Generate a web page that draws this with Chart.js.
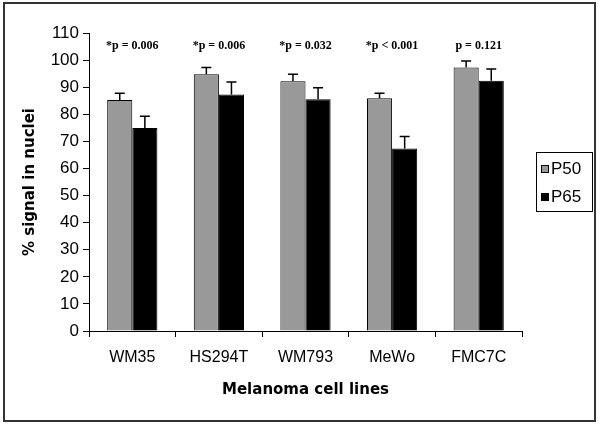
<!DOCTYPE html>
<html lang="en">
<head>
    <meta charset="UTF-8">
    <title>% signal in nuclei - melanoma cell lines</title>
    <script src="https://cdn.jsdelivr.net/npm/chart.js"></script>
    <style>
        body { margin: 0; background: #fff; }
        #wrap { width: 600px; height: 425px; position: relative; }
    </style>
</head>
<body>
<div id="wrap"><canvas id="barChart" width="600" height="425"></canvas></div>
<script>
    // data
    var cellLines = ['WM35', 'HS294T', 'WM793', 'MeWo', 'FMC7C'];
    var p50 = [85.3, 94.8, 92.2, 85.9, 97.3];
    var p65 = [74.9, 87.3, 85.5, 67.4, 92.4];
    var p50Err = [2.5, 2.5, 2.6, 1.9, 2.4];
    var p65Err = [4.4, 4.6, 4.3, 4.4, 4.3];
    var pLabels = ['*p = 0.006', '*p = 0.006', '*p = 0.032', '*p < 0.001', 'p = 0.121'];

    // upward error bars + p-value labels + frame + legend
    var extras = {
        id: 'extras',
        afterDatasetsDraw: function(chart) {
            var ctx = chart.ctx;
            var y = chart.scales.y;
            var errs = [p50Err, p65Err];
            ctx.save();
            ctx.strokeStyle = '#000';
            ctx.lineWidth = 1.5;
            chart.data.datasets.forEach(function(ds, di) {
                chart.getDatasetMeta(di).data.forEach(function(bar, i) {
                    var top = y.getPixelForValue(ds.data[i] + errs[di][i]);
                    ctx.beginPath();
                    ctx.moveTo(bar.x, bar.y);
                    ctx.lineTo(bar.x, top);
                    ctx.moveTo(bar.x - 5, top);
                    ctx.lineTo(bar.x + 5, top);
                    ctx.stroke();
                });
            });
            // p values above each group
            ctx.fillStyle = '#000';
            ctx.font = 'bold 12px "Liberation Serif"';
            ctx.textAlign = 'center';
            ctx.textBaseline = 'middle';
            var x = chart.scales.x;
            pLabels.forEach(function(t, i) {
                ctx.fillText(t, x.getPixelForValue(i), 46);
            });
            ctx.restore();
        },
        beforeDraw: function(chart) {
            var ctx = chart.ctx;
            ctx.save();
            ctx.fillStyle = '#fff';
            ctx.fillRect(0, 0, chart.width, chart.height);
            ctx.strokeStyle = '#333';
            ctx.lineWidth = 2;
            ctx.strokeRect(4, 3, 591, 418);
            ctx.restore();
        },
        afterDraw: function(chart) {
            var ctx = chart.ctx;
            ctx.save();
            ctx.strokeStyle = '#000';
            ctx.lineWidth = 1;
            ctx.strokeRect(536.5, 152.5, 56, 59);
            var items = [['P50', '#999999'], ['P65', '#000000']];
            ctx.font = '17px "Liberation Sans"';
            ctx.textBaseline = 'middle';
            ctx.textAlign = 'left';
            items.forEach(function(it, i) {
                var cy = 169 + i * 28;
                ctx.fillStyle = it[1];
                ctx.fillRect(541.5, cy - 3.5, 7, 7);
                ctx.strokeRect(541.5, cy - 3.5, 7, 7);
                ctx.fillStyle = '#000';
                ctx.fillText(it[0], 551, cy);
            });
            ctx.restore();
        }
    };

    var config = {
        type: 'bar',
        data: {
            labels: cellLines,
            datasets: [{
                label: 'P50',
                data: p50,
                backgroundColor: '#999999',
                borderColor: '#000',
                borderWidth: 1,
                barPercentage: 1,
                categoryPercentage: 0.58
            }, {
                label: 'P65',
                data: p65,
                backgroundColor: '#000000',
                borderColor: '#000',
                borderWidth: 1,
                barPercentage: 1,
                categoryPercentage: 0.58
            }]
        },
        plugins: [extras],
        options: {
            responsive: false,
            animation: false,
            layout: { padding: { top: 33, right: 78, left: 0, bottom: 0 } },
            plugins: {
                legend: { display: false },
                tooltip: { enabled: false }
            },
            scales: {
                x: {
                    afterFit: function(s) { s.height = 94; },
                    grid: { offset: true, drawOnChartArea: false, tickLength: 6, color: '#000' },
                    border: { color: '#000', width: 1 },
                    ticks: { color: '#000', padding: 11, font: { family: 'Liberation Sans', size: 16 } },
                    title: {
                        display: true,
                        text: 'Melanoma cell lines',
                        color: '#000',
                        font: { family: 'DejaVu Sans', size: 15, weight: 'bold' },
                        padding: { top: 0, bottom: 26 }
                    }
                },
                y: {
                    min: 0,
                    max: 110,
                    afterFit: function(s) { s.width = 89; },
                    grid: { drawOnChartArea: false, tickLength: 6, color: '#000' },
                    border: { color: '#000', width: 1 },
                    ticks: { stepSize: 10, color: '#000', padding: 4, font: { family: 'Liberation Sans', size: 17 } },
                    title: {
                        display: true,
                        text: '% signal in nuclei',
                        color: '#000',
                        font: { family: 'DejaVu Sans', size: 15, weight: 'bold' },
                        padding: { top: 21, bottom: 0 }
                    }
                }
            }
        }
    };

    var myChart = new Chart(document.getElementById('barChart'), config);
</script>
</body>
</html>
